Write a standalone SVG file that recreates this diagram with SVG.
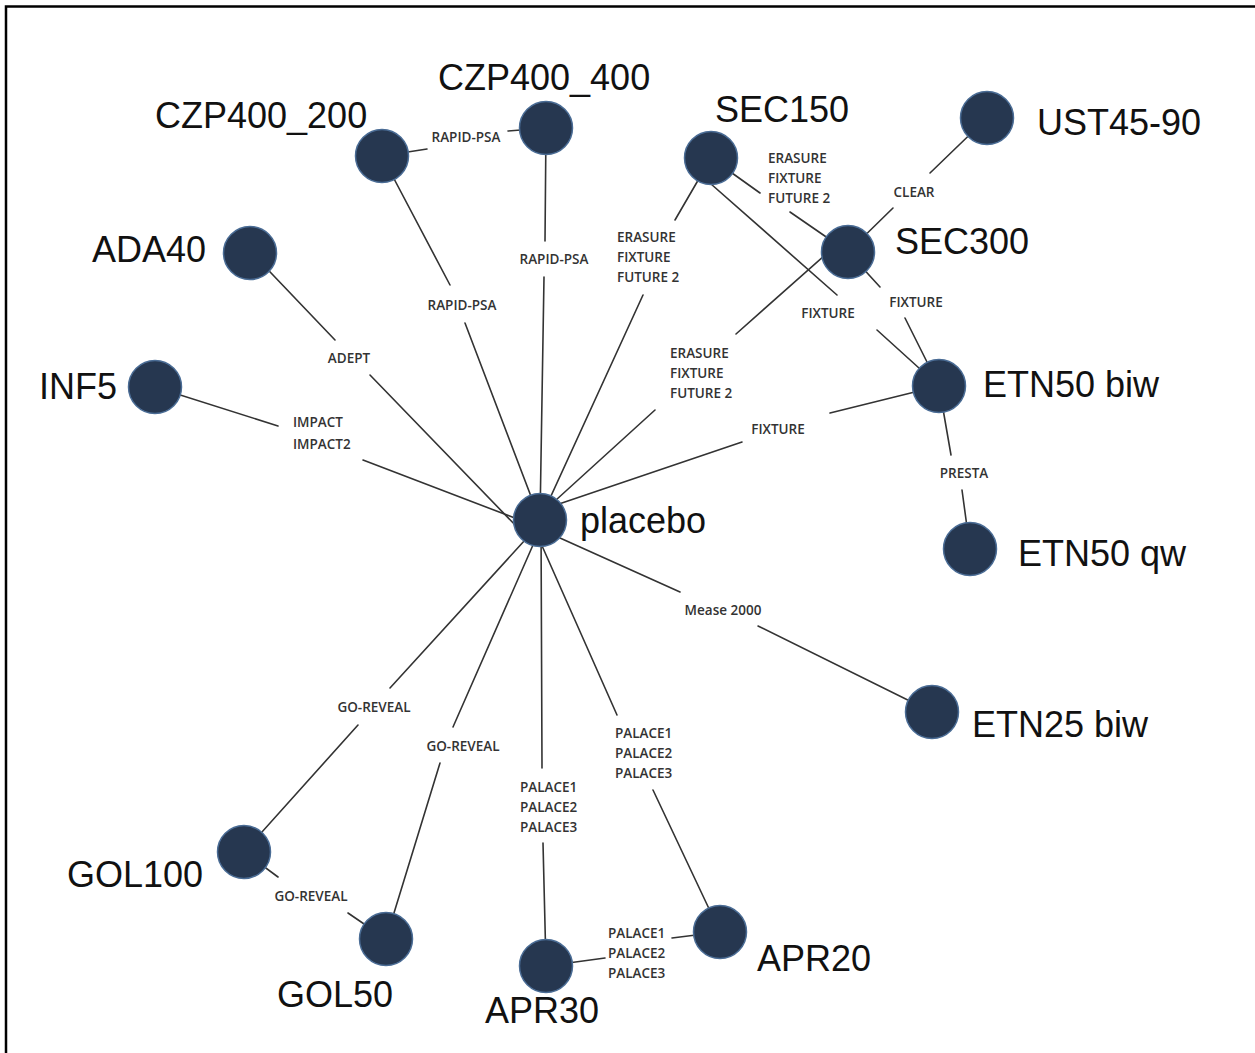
<svg xmlns="http://www.w3.org/2000/svg" width="1255" height="1053" viewBox="0 0 1255 1053">
  <style>
    .frame { stroke: #000; stroke-width: 2.5; fill: none; }
    .edge { stroke: #333; stroke-width: 1.6; fill: none; stroke-linecap: round; }
    .node circle { fill: #263750; stroke: #4a6c95; stroke-width: 1.5; }
    .nlabel { font-family: "Liberation Sans", Arial, sans-serif; font-size: 36px; fill: #111; }
    .elabel { font-family: "Open Sans", "Liberation Sans", sans-serif; font-size: 13.5px; font-weight: 600; fill: #333; }
    .mid { text-anchor: middle; }
  </style>
  <rect width="1255" height="1053" fill="#fff"/>
  <!-- frame: only top and left edges fall inside the canvas -->
  <path class="frame" d="M6,1053 V6.5 H1255"/>

  <g id="connectors">
    <!-- CZP400_200 - CZP400_400 -->
    <path class="edge" d="M382,156 L427,149 M508,131 L546,128"/>
    <!-- CZP400_200 - placebo -->
    <path class="edge" d="M382,156 L450,285 M465,323 L540,520"/>
    <!-- CZP400_400 - placebo -->
    <path class="edge" d="M546,128 L545,241 M544,277 L540,520"/>
    <!-- SEC150 - placebo -->
    <path class="edge" d="M711,158 L675,220 M643,295 L540,520"/>
    <!-- SEC150 - SEC300 -->
    <path class="edge" d="M711,158 L760,193 M790,212 L848,252"/>
    <!-- SEC150 - ETN50 biw -->
    <path class="edge" d="M711,184 L837,295 M877,330 L930,378"/>
    <!-- SEC300 - placebo -->
    <path class="edge" d="M842,240 L736,334 M655,410 L556,500"/>
    <!-- SEC300 - UST45-90 -->
    <path class="edge" d="M848,252 L893,208 M930,173 L987,118"/>
    <!-- SEC300 - ETN50 biw -->
    <path class="edge" d="M848,252 L880,287 M905,318 L939,386"/>
    <!-- ETN50 biw - placebo -->
    <path class="edge" d="M939,386 L830,413 M742,442 L556,505"/>
    <!-- ETN50 biw - ETN50 qw -->
    <path class="edge" d="M939,386 L951,455 M962,490 L970,549"/>
    <!-- ADA40 - placebo -->
    <path class="edge" d="M250,251 L335,340 M370,375 L518,528"/>
    <!-- INF5 - placebo -->
    <path class="edge" d="M155,387 L278,426 M363,460 L520,520"/>
    <!-- placebo - GOL100 -->
    <path class="edge" d="M525,540 L390,688 M358,725 L244,852"/>
    <!-- placebo - GOL50 -->
    <path class="edge" d="M533,545 L453,727 M440,763 L386,939"/>
    <!-- GOL100 - GOL50 -->
    <path class="edge" d="M244,852 L278,877 M348,913 L386,939"/>
    <!-- placebo - APR30 -->
    <path class="edge" d="M541,520 L542,768 M543,843 L546,966"/>
    <!-- placebo - APR20 -->
    <path class="edge" d="M535,530 L617,715 M653,790 L720,932"/>
    <!-- APR30 - APR20 -->
    <path class="edge" d="M546,966 L605,958 M672,938 L720,932"/>
    <!-- placebo - ETN25 biw -->
    <path class="edge" d="M540,529 L680,592 M758,626 L932,712"/>

    <!-- trial labels -->
    <text class="elabel mid" x="466" y="142">RAPID-PSA</text>
    <text class="elabel mid" x="462" y="310">RAPID-PSA</text>
    <text class="elabel mid" x="554" y="264">RAPID-PSA</text>
    <text class="elabel" x="617" y="242">ERASURE<tspan x="617" dy="20">FIXTURE</tspan><tspan x="617" dy="20">FUTURE 2</tspan></text>
    <text class="elabel" x="768" y="163">ERASURE<tspan x="768" dy="20">FIXTURE</tspan><tspan x="768" dy="20">FUTURE 2</tspan></text>
    <text class="elabel mid" x="828" y="318">FIXTURE</text>
    <text class="elabel" x="670" y="358">ERASURE<tspan x="670" dy="20">FIXTURE</tspan><tspan x="670" dy="20">FUTURE 2</tspan></text>
    <text class="elabel mid" x="914" y="197">CLEAR</text>
    <text class="elabel mid" x="916" y="307">FIXTURE</text>
    <text class="elabel mid" x="778" y="434">FIXTURE</text>
    <text class="elabel mid" x="964" y="478">PRESTA</text>
    <text class="elabel mid" x="349" y="363">ADEPT</text>
    <text class="elabel" x="293" y="427">IMPACT<tspan x="293" dy="22">IMPACT2</tspan></text>
    <text class="elabel mid" x="374" y="712">GO-REVEAL</text>
    <text class="elabel mid" x="463" y="751">GO-REVEAL</text>
    <text class="elabel mid" x="311" y="901">GO-REVEAL</text>
    <text class="elabel" x="520" y="792">PALACE1<tspan x="520" dy="20">PALACE2</tspan><tspan x="520" dy="20">PALACE3</tspan></text>
    <text class="elabel" x="615" y="738">PALACE1<tspan x="615" dy="20">PALACE2</tspan><tspan x="615" dy="20">PALACE3</tspan></text>
    <text class="elabel" x="608" y="938">PALACE1<tspan x="608" dy="20">PALACE2</tspan><tspan x="608" dy="20">PALACE3</tspan></text>
    <text class="elabel mid" x="723" y="615">Mease 2000</text>
  </g>

  <g id="node-CZP400_200" class="node"><circle cx="382" cy="156" r="26.5"/><text class="nlabel" x="155" y="128">CZP400_200</text></g>
  <g id="node-CZP400_400" class="node"><circle cx="546" cy="128" r="26.5"/><text class="nlabel" x="438" y="90">CZP400_400</text></g>
  <g id="node-SEC150" class="node"><circle cx="711" cy="158" r="26.5"/><text class="nlabel" x="715" y="122">SEC150</text></g>
  <g id="node-UST45-90" class="node"><circle cx="987" cy="118" r="26.5"/><text class="nlabel" x="1037" y="135">UST45-90</text></g>
  <g id="node-SEC300" class="node"><circle cx="848" cy="252" r="26.5"/><text class="nlabel" x="895" y="254">SEC300</text></g>
  <g id="node-ETN50biw" class="node"><circle cx="939" cy="386" r="26.5"/><text class="nlabel" x="983" y="397">ETN50 biw</text></g>
  <g id="node-ETN50qw" class="node"><circle cx="970" cy="549" r="26.5"/><text class="nlabel" x="1018" y="566">ETN50 qw</text></g>
  <g id="node-ADA40" class="node"><circle cx="250" cy="253" r="26.5"/><text class="nlabel" x="92" y="262">ADA40</text></g>
  <g id="node-INF5" class="node"><circle cx="155" cy="387" r="26.5"/><text class="nlabel" x="39" y="399">INF5</text></g>
  <g id="node-placebo" class="node"><circle cx="540" cy="520" r="26.5"/><text class="nlabel" x="580" y="533">placebo</text></g>
  <g id="node-ETN25biw" class="node"><circle cx="932" cy="712" r="26.5"/><text class="nlabel" x="972" y="737">ETN25 biw</text></g>
  <g id="node-APR20" class="node"><circle cx="720" cy="932" r="26.5"/><text class="nlabel" x="757" y="971">APR20</text></g>
  <g id="node-APR30" class="node"><circle cx="546" cy="966" r="26.5"/><text class="nlabel" x="485" y="1023">APR30</text></g>
  <g id="node-GOL50" class="node"><circle cx="386" cy="939" r="26.5"/><text class="nlabel" x="277" y="1007">GOL50</text></g>
  <g id="node-GOL100" class="node"><circle cx="244" cy="852" r="26.5"/><text class="nlabel" x="67" y="887">GOL100</text></g>
</svg>
